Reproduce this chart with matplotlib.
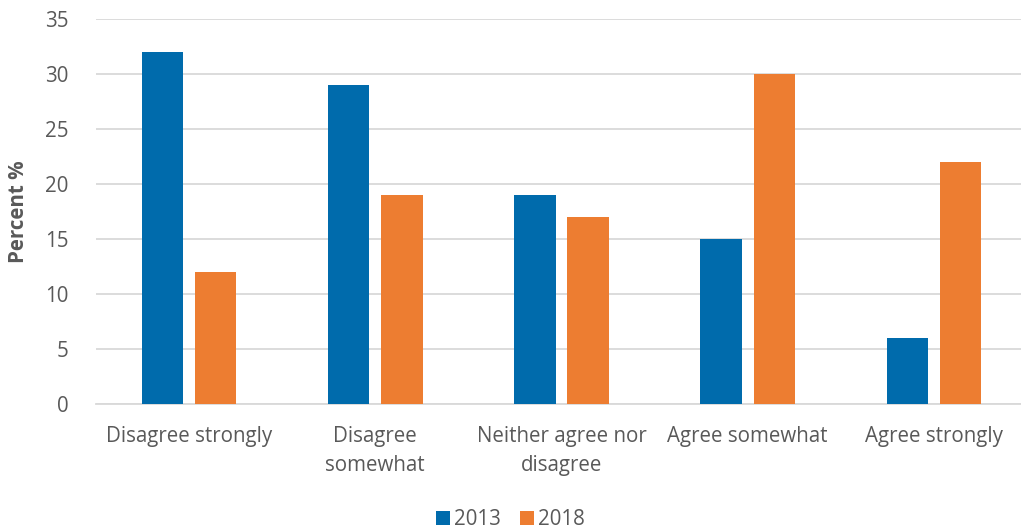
import numpy as np
import matplotlib.pyplot as plt

# Survey responses by year
categories = ['Disagree strongly', 'Disagree\nsomewhat', 'Neither agree nor\ndisagree',
              'Agree somewhat', 'Agree strongly']
years = ['2013', '2018']
pct_2013 = [32, 29, 19, 15, 6]
pct_2018 = [12, 19, 17, 30, 22]

blue = '#006BAC'
orange = '#ED7D31'
grey = '#595959'

plt.rcParams['font.family'] = ['Open Sans', 'DejaVu Sans']

fig = plt.figure(figsize=(10.21, 5.31), dpi=100)
ax = fig.add_axes([96 / 1021, 0.239, 931 / 1021, 0.725])

x = np.arange(len(categories))
w = 0.223
ax.bar(x - 0.143, pct_2013, w, color=blue, label=years[0], zorder=3)
ax.bar(x + 0.143, pct_2018, w, color=orange, label=years[1], zorder=3)

ax.set_xlim(-0.5, len(categories) - 0.5)
ax.set_ylim(0, 35)
ax.set_yticks(range(0, 36, 5))
ax.yaxis.grid(True, color='#D9D9D9', linewidth=1.3, zorder=0)
ax.set_xticks(x)
ax.set_xticklabels(categories, fontsize=14.8, color=grey, linespacing=1.45)
ax.tick_params(axis='y', labelsize=14.8, labelcolor=grey, length=0, pad=20)
ax.tick_params(axis='x', length=0, pad=16)
for s in ['top', 'right', 'left']:
    ax.spines[s].set_visible(False)
ax.spines['bottom'].set_color('#D9D9D9')
ax.spines['bottom'].set_linewidth(1.3)

ax.set_ylabel('Percent %', fontsize=14.8, fontweight='bold', color=grey, labelpad=11)

fig.legend(loc='lower center', bbox_to_anchor=(0.5, -0.033), ncol=2, frameon=False,
           fontsize=14.8, labelcolor=grey, handlelength=0.7, handleheight=0.7,
           handletextpad=0.2, columnspacing=0.9)

fig.savefig('out.png', dpi=100)
